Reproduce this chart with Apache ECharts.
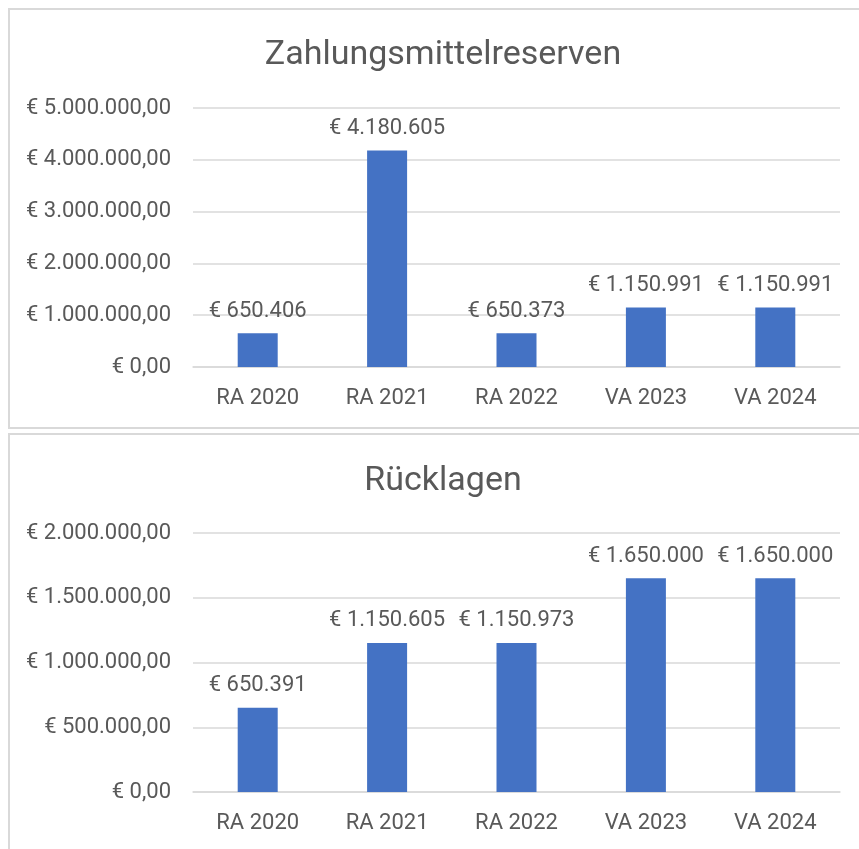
<!DOCTYPE html>
<html><head><meta charset="utf-8">
<script src="https://cdn.jsdelivr.net/npm/echarts@6/dist/echarts.min.js"></script>
<style>html,body{margin:0;padding:0;background:#fff}#c{width:859px;height:849px}</style>
</head><body><div id="c"></div>
<script>
const categories = ['RA 2020','RA 2021','RA 2022','VA 2023','VA 2024'];
const reserven = [650406, 4180605, 650373, 1150991, 1150991];
const ruecklagen = [650391, 1150605, 1150973, 1650000, 1650000];
const titles = ['Zahlungsmittelreserven','Rücklagen'];

function deNum(v, dec){
  const s = v.toFixed(dec);
  let [i, d] = s.split('.');
  i = i.replace(/\B(?=(\d{3})+(?!\d))/g, '.');
  return d ? i + ',' + d : i;
}
const FONT = 'Roboto';
const TXT = '#595959';
const chart = echarts.init(document.getElementById('c'), null, {renderer:'canvas'});
function axisX(gi){
  return {type:'category', gridIndex:gi, data:categories,
    axisLine:{lineStyle:{color:'#D9D9D9', width:1.5}}, axisTick:{show:false},
    axisLabel:{color:TXT, fontFamily:FONT, fontSize:22, margin:20}};
}
function axisY(gi, max, interval){
  return {type:'value', gridIndex:gi, min:0, max:max, interval:interval,
    axisLine:{show:false}, axisTick:{show:false},
    splitLine:{lineStyle:{color:'#D9D9D9', width:1.5}},
    axisLabel:{color:TXT, fontFamily:FONT, fontSize:22, margin:22,
      formatter:v=>'€ ' + deNum(v,2)}};
}
function barSeries(gi, data){
  return {type:'bar', xAxisIndex:gi, yAxisIndex:gi, data:data, barWidth:40,
    itemStyle:{color:'#4472C4'},
    label:{show:true, position:'top', distance:11, color:TXT, fontFamily:FONT, fontSize:22,
      formatter:p=>'€ ' + deNum(p.value,0)}};
}
chart.setOption({
  animation:false,
  title:[
    {text:titles[0], left:438, top:33, textAlign:'center', textStyle:{color:TXT, fontFamily:FONT, fontSize:34, fontWeight:'normal'}},
    {text:titles[1], left:438, top:459, textAlign:'center', textStyle:{color:TXT, fontFamily:FONT, fontSize:34, fontWeight:'normal'}}
  ],
  graphic:[
    {type:'rect', shape:{x:9, y:9, width:860, height:419}, style:{fill:'none', stroke:'#D9D9D9', lineWidth:2}, z:-1},
    {type:'rect', shape:{x:9, y:434, width:860, height:430}, style:{fill:'none', stroke:'#D9D9D9', lineWidth:2}, z:-1}
  ],
  grid:[
    {left:193, width:647, top:108, height:259},
    {left:193, width:647, top:533, height:259}
  ],
  xAxis:[axisX(0), axisX(1)],
  yAxis:[axisY(0, 5000000, 1000000), axisY(1, 2000000, 500000)],
  series:[barSeries(0, reserven), barSeries(1, ruecklagen)]
});
</script></body></html>
